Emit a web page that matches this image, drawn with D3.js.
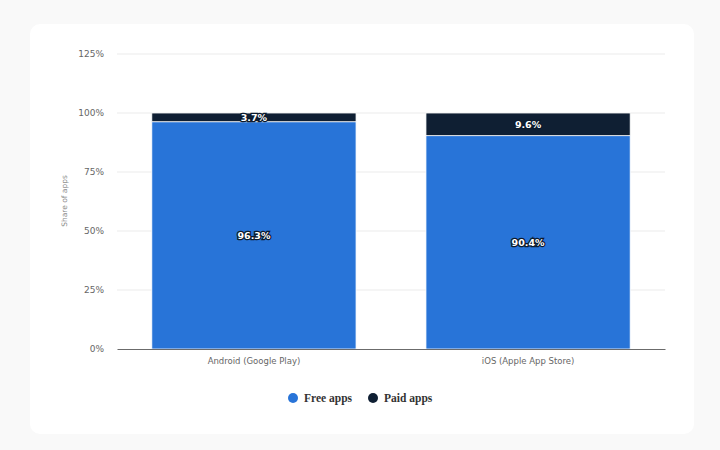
<!DOCTYPE html>
<html>
<head>
<meta charset="utf-8">
<script src="https://cdn.jsdelivr.net/npm/d3@7"></script>
<style>
  body { margin: 0; background: #f9f9f9; }
  svg { display: block; }
</style>
</head>
<body>
<svg id="chart" width="720" height="450"></svg>
<script>
// chart data
var categories = ["Android (Google Play)", "iOS (Apple App Store)"];
var seriesNames = ["Free apps", "Paid apps"];
var freeApps = [96.3, 90.4];
var paidApps = [3.7, 9.6];
var yTicks = [0, 25, 50, 75, 100, 125];

var colors = { "Free apps": "#2874d8", "Paid apps": "#0f1f33" };

var svg = d3.select("#chart");
var margin = { left: 117, right: 55, top: 54, bottom: 101 };
var width = 720 - margin.left - margin.right;
var height = 450 - margin.top - margin.bottom;

// card background
svg.append("rect")
    .attr("x", 30).attr("y", 24)
    .attr("width", 664).attr("height", 410)
    .attr("rx", 10)
    .attr("fill", "#ffffff");

var g = svg.append("g").attr("transform", `translate(${margin.left},${margin.top})`);

var x = d3.scaleBand().domain(categories).range([0, width]).paddingInner(0.255).paddingOuter(0.127);
var y = d3.scaleLinear().domain([0, 125]).range([height, 0]);

// grid
g.selectAll(".grid")
    .data(yTicks.filter(d => d > 0))
    .enter()
    .append("line")
    .attr("class", "grid")
    .attr("x1", 0).attr("x2", width)
    .attr("y1", d => y(d)).attr("y2", d => y(d))
    .attr("stroke", "#ebebeb")
    .attr("stroke-width", 1);

// y axis
var yAxis = d3.axisLeft(y).tickValues(yTicks).tickFormat(d => d + "%").tickSize(0).tickPadding(13);
g.append("g").call(yAxis)
    .call(a => a.select(".domain").remove())
    .selectAll("text")
    .attr("fill", "#666")
    .style("font-family", "'DejaVu Sans', sans-serif")
    .style("font-size", "9px");

// stacked data
var rows = categories.map(function (c, i) {
    return { category: c, "Free apps": freeApps[i], "Paid apps": paidApps[i] };
});
var stack = d3.stack().keys(seriesNames)(rows);

var layers = g.selectAll(".layer")
    .data(stack)
    .enter()
    .append("g")
    .attr("class", "layer")
    .attr("fill", d => colors[d.key]);

layers.selectAll("rect")
    .data(d => d)
    .enter()
    .append("rect")
    .attr("x", d => x(d.data.category))
    .attr("y", d => y(d[1]))
    .attr("width", x.bandwidth())
    .attr("height", d => y(d[0]) - y(d[1]))
    .attr("stroke", "#ffffff")
    .attr("stroke-width", 0.8);

// value labels
stack.forEach(function (layer) {
    layer.forEach(function (d) {
        var lx = x(d.data.category) + x.bandwidth() / 2;
        var ly = (y(d[0]) + y(d[1])) / 2;
        var label = (d[1] - d[0]).toFixed(1) + "%";
        g.append("text")
            .attr("x", lx).attr("y", ly)
            .attr("dy", "0.35em")
            .attr("text-anchor", "middle")
            .attr("fill", "#ffffff")
            .attr("stroke", "#0c1a2c")
            .attr("stroke-width", 2.5)
            .attr("paint-order", "stroke")
            .style("font-family", "'DejaVu Sans', sans-serif")
            .style("font-weight", "bold")
            .style("font-size", "9.5px")
            .text(label);
    });
});

// x axis
var xAxis = d3.axisBottom(x).tickSize(0).tickPadding(9);
var xg = g.append("g").attr("transform", `translate(0,${height})`).call(xAxis);
xg.select(".domain").attr("stroke", "#6b6b6b").attr("stroke-width", 1);
xg.selectAll("text")
    .attr("fill", "#666")
    .style("font-family", "'DejaVu Sans', sans-serif")
    .style("font-size", "8.5px");

// y axis title
svg.append("text")
    .attr("transform", "translate(67,201) rotate(-90)")
    .attr("text-anchor", "middle")
    .attr("fill", "#8a8a8a")
    .style("font-family", "'DejaVu Sans', sans-serif")
    .style("font-size", "7.5px")
    .text("Share of apps");

// legend
var legendX = [293, 373];
var legend = svg.selectAll(".legend")
    .data(seriesNames)
    .enter()
    .append("g")
    .attr("class", "legend")
    .attr("transform", (d, i) => `translate(${legendX[i]},398)`);

legend.append("circle")
    .attr("r", 5)
    .attr("fill", d => colors[d]);

legend.append("text")
    .attr("x", 11)
    .attr("dy", "0.35em")
    .attr("fill", "#333")
    .style("font-family", "'Liberation Serif', serif")
    .style("font-weight", "bold")
    .style("font-size", "11.5px")
    .text(d => d);
</script>
</body>
</html>
